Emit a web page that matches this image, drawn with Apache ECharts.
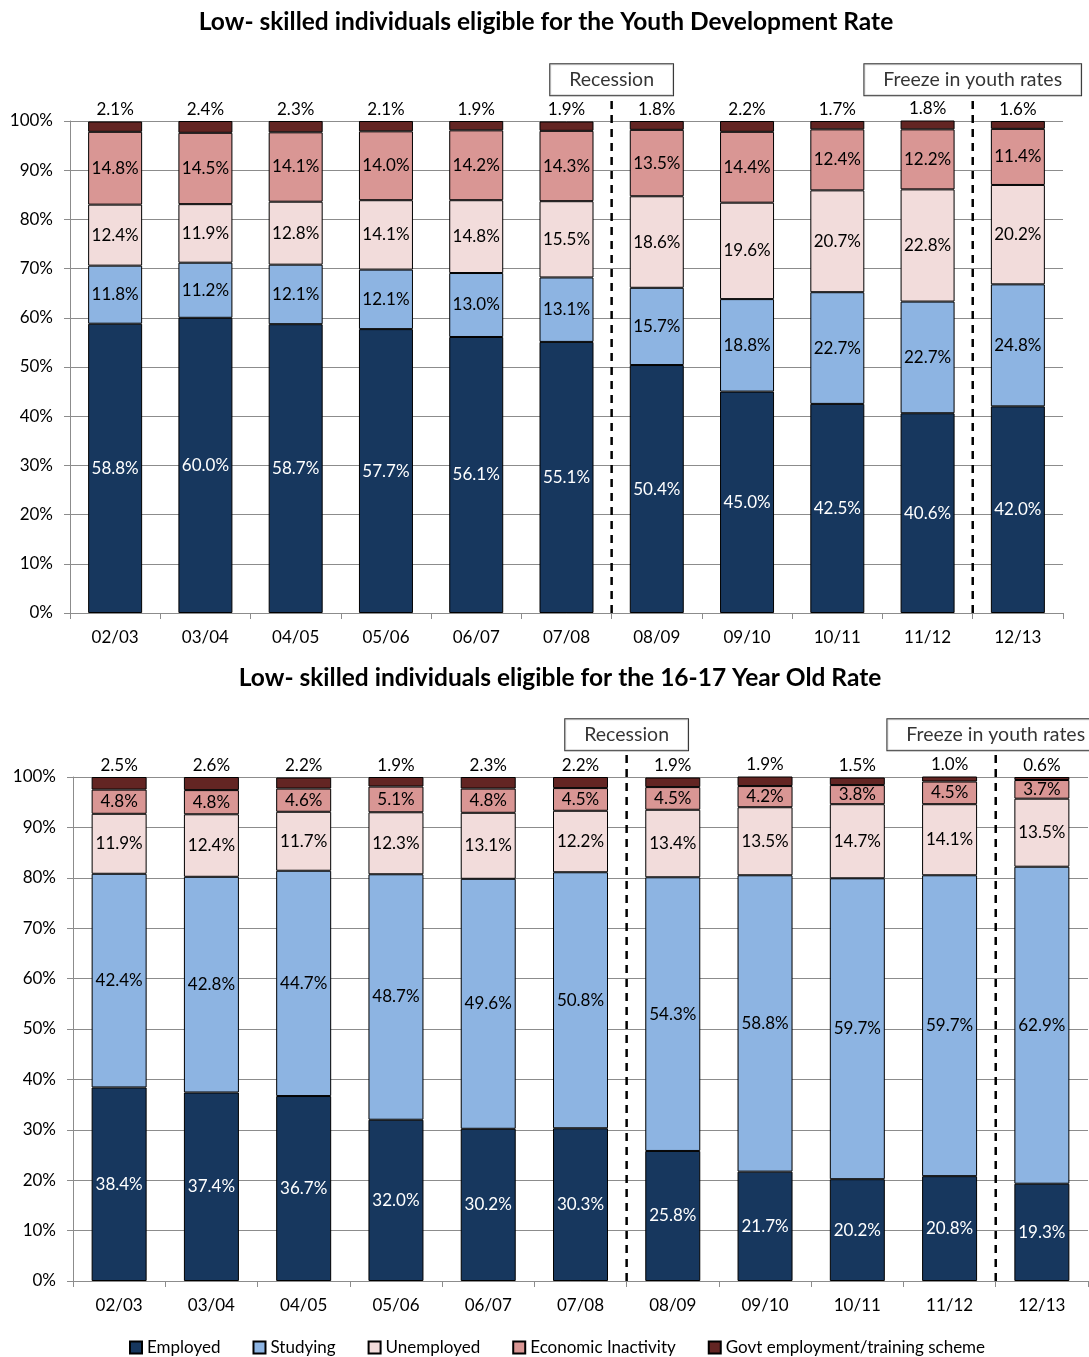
<!DOCTYPE html>
<html>
<head>
<meta charset="utf-8">
<script src="https://cdn.jsdelivr.net/npm/echarts@6/dist/echarts.min.js"></script>
<style>
  html, body { margin: 0; padding: 0; background: #fff; }
  #chart { width: 1089px; height: 1357px; }
</style>
</head>
<body>
<div id="chart"></div>
<script>
// Shared categories (financial years)
const years = ['02/03', '03/04', '04/05', '05/06', '06/07', '07/08', '08/09', '09/10', '10/11', '11/12', '12/13'];
const seriesNames = ['Employed', 'Studying', 'Unemployed', 'Economic Inactivity', 'Govt employment/training scheme'];
const yTicks = [0, 10, 20, 30, 40, 50, 60, 70, 80, 90, 100];

// Youth Development Rate group (%)
const ydrEmployed   = [58.8, 60.0, 58.7, 57.7, 56.1, 55.1, 50.4, 45.0, 42.5, 40.6, 42.0];
const ydrStudying   = [11.8, 11.2, 12.1, 12.1, 13.0, 13.1, 15.7, 18.8, 22.7, 22.7, 24.8];
const ydrUnemployed = [12.4, 11.9, 12.8, 14.1, 14.8, 15.5, 18.6, 19.6, 20.7, 22.8, 20.2];
const ydrInactive   = [14.8, 14.5, 14.1, 14.0, 14.2, 14.3, 13.5, 14.4, 12.4, 12.2, 11.4];
const ydrGovt       = [2.1, 2.4, 2.3, 2.1, 1.9, 1.9, 1.8, 2.2, 1.7, 1.8, 1.6];

// 16-17 Year Old Rate group (%)
const teenEmployed   = [38.4, 37.4, 36.7, 32.0, 30.2, 30.3, 25.8, 21.7, 20.2, 20.8, 19.3];
const teenStudying   = [42.4, 42.8, 44.7, 48.7, 49.6, 50.8, 54.3, 58.8, 59.7, 59.7, 62.9];
const teenUnemployed = [11.9, 12.4, 11.7, 12.3, 13.1, 12.2, 13.4, 13.5, 14.7, 14.1, 13.5];
const teenInactive   = [4.8, 4.8, 4.6, 5.1, 4.8, 4.5, 4.5, 4.2, 3.8, 4.5, 3.7];
const teenGovt       = [2.5, 2.6, 2.2, 1.9, 2.3, 2.2, 1.9, 1.9, 1.5, 1.0, 0.6];

// Event markers: category boundary index and caption
const eventNames = ['Recession', 'Freeze in youth rates'];
const eventBoundaries = [6, 10];

const titles = [
  'Low- skilled individuals eligible for the Youth Development Rate',
  'Low- skilled individuals eligible for the 16-17 Year Old Rate'
];

const colors = ['#17375E', '#8DB4E2', '#F2DCDB', '#D99694', '#632523'];
const labelColors = ['#fff', '#000', '#000', '#000', '#000'];
const FONT = 'Lato, "Open Sans", sans-serif';
const AXIS_GRAY = '#8C8C8C';

const groups = [
  [ydrEmployed, ydrStudying, ydrUnemployed, ydrInactive, ydrGovt],
  [teenEmployed, teenStudying, teenUnemployed, teenInactive, teenGovt]
];
const barWidths = [54, 55];

const pct = v => v.toFixed(1) + '%';

const series = [];
groups.forEach((grp, g) => {
  grp.forEach((vals, i) => {
    const isTop = i === grp.length - 1;
    series.push({
      name: seriesNames[i],
      type: 'bar',
      stack: 'grp' + g,
      xAxisIndex: g,
      yAxisIndex: g,
      barWidth: barWidths[g],
      data: vals,
      itemStyle: { color: colors[i], borderColor: '#000', borderWidth: 1 },
      label: {
        show: true,
        position: isTop ? 'top' : 'inside',
        distance: 3,
        color: isTop ? '#000' : labelColors[i],
        fontFamily: FONT,
        fontSize: 17,
        formatter: p => pct(p.value)
      },
      emphasis: { disabled: true },
      animation: false
    });
  });

  // dashed event lines and their captions
  eventBoundaries.forEach((b, k) => {
    series.push({
      type: 'line',
      xAxisIndex: 2 + g,
      yAxisIndex: g,
      data: [[b, 0], [b, 105]],
      symbol: 'none',
      clip: false,
      silent: true,
      animation: false,
      lineStyle: { color: '#000', width: 2.5, type: [8, 6] },
      z: 5
    });
    series.push({
      type: 'scatter',
      xAxisIndex: 2 + g,
      yAxisIndex: g,
      data: [[b, 108.4]],
      symbolSize: 1,
      itemStyle: { color: 'rgba(0,0,0,0)' },
      clip: false,
      silent: true,
      animation: false,
      label: {
        show: true,
        position: 'inside',
        formatter: eventNames[k],
        fontFamily: FONT,
        fontSize: 19.5,
        color: '#000',
        backgroundColor: '#fff',
        borderColor: '#000',
        borderWidth: 1,
        padding: [6, 19, 5, 19]
      },
      z: 6
    });
  });
});

const grids = [
  { left: 70, right: 26, top: 121, height: 492 },
  { left: 73, right: 1, top: 777, height: 504 }
];

const catAxis = g => ({
  type: 'category',
  gridIndex: g,
  data: years,
  axisLine: { lineStyle: { color: AXIS_GRAY } },
  axisTick: { show: true, length: 6, lineStyle: { color: AXIS_GRAY } },
  axisLabel: { color: '#000', fontFamily: FONT, fontSize: 17, margin: 16 }
});
const valXAxis = g => ({ type: 'value', gridIndex: g, min: 0, max: years.length, show: false });
const yAxis = g => ({
  type: 'value',
  gridIndex: g,
  min: yTicks[0],
  max: yTicks[yTicks.length - 1],
  interval: yTicks[1] - yTicks[0],
  axisLine: { show: true, lineStyle: { color: AXIS_GRAY } },
  axisTick: { show: true, length: 6, lineStyle: { color: AXIS_GRAY } },
  splitLine: { lineStyle: { color: AXIS_GRAY } },
  axisLabel: { color: '#000', fontFamily: FONT, fontSize: 17, margin: 17, formatter: '{value}%' }
});

const chart = echarts.init(document.getElementById('chart'), null, { renderer: 'canvas' });
chart.setOption({
  backgroundColor: '#fff',
  animation: false,
  title: [
    { text: titles[0], left: 541, top: 5, textAlign: 'center',
      textStyle: { fontFamily: FONT, fontSize: 24.5, fontWeight: 'bold', color: '#000' } },
    { text: titles[1], left: 555, top: 661, textAlign: 'center',
      textStyle: { fontFamily: FONT, fontSize: 24.5, fontWeight: 'bold', color: '#000' } }
  ],
  legend: {
    data: seriesNames,
    top: 1334,
    left: 124,
    icon: 'rect',
    itemWidth: 12,
    itemHeight: 12,
    itemGap: 32,
    textStyle: { fontFamily: FONT, fontSize: 17, color: '#000' },
    selectedMode: false
  },
  grid: grids,
  xAxis: [catAxis(0), catAxis(1), valXAxis(0), valXAxis(1)],
  yAxis: [yAxis(0), yAxis(1)],
  series: series
});
</script>
</body>
</html>
